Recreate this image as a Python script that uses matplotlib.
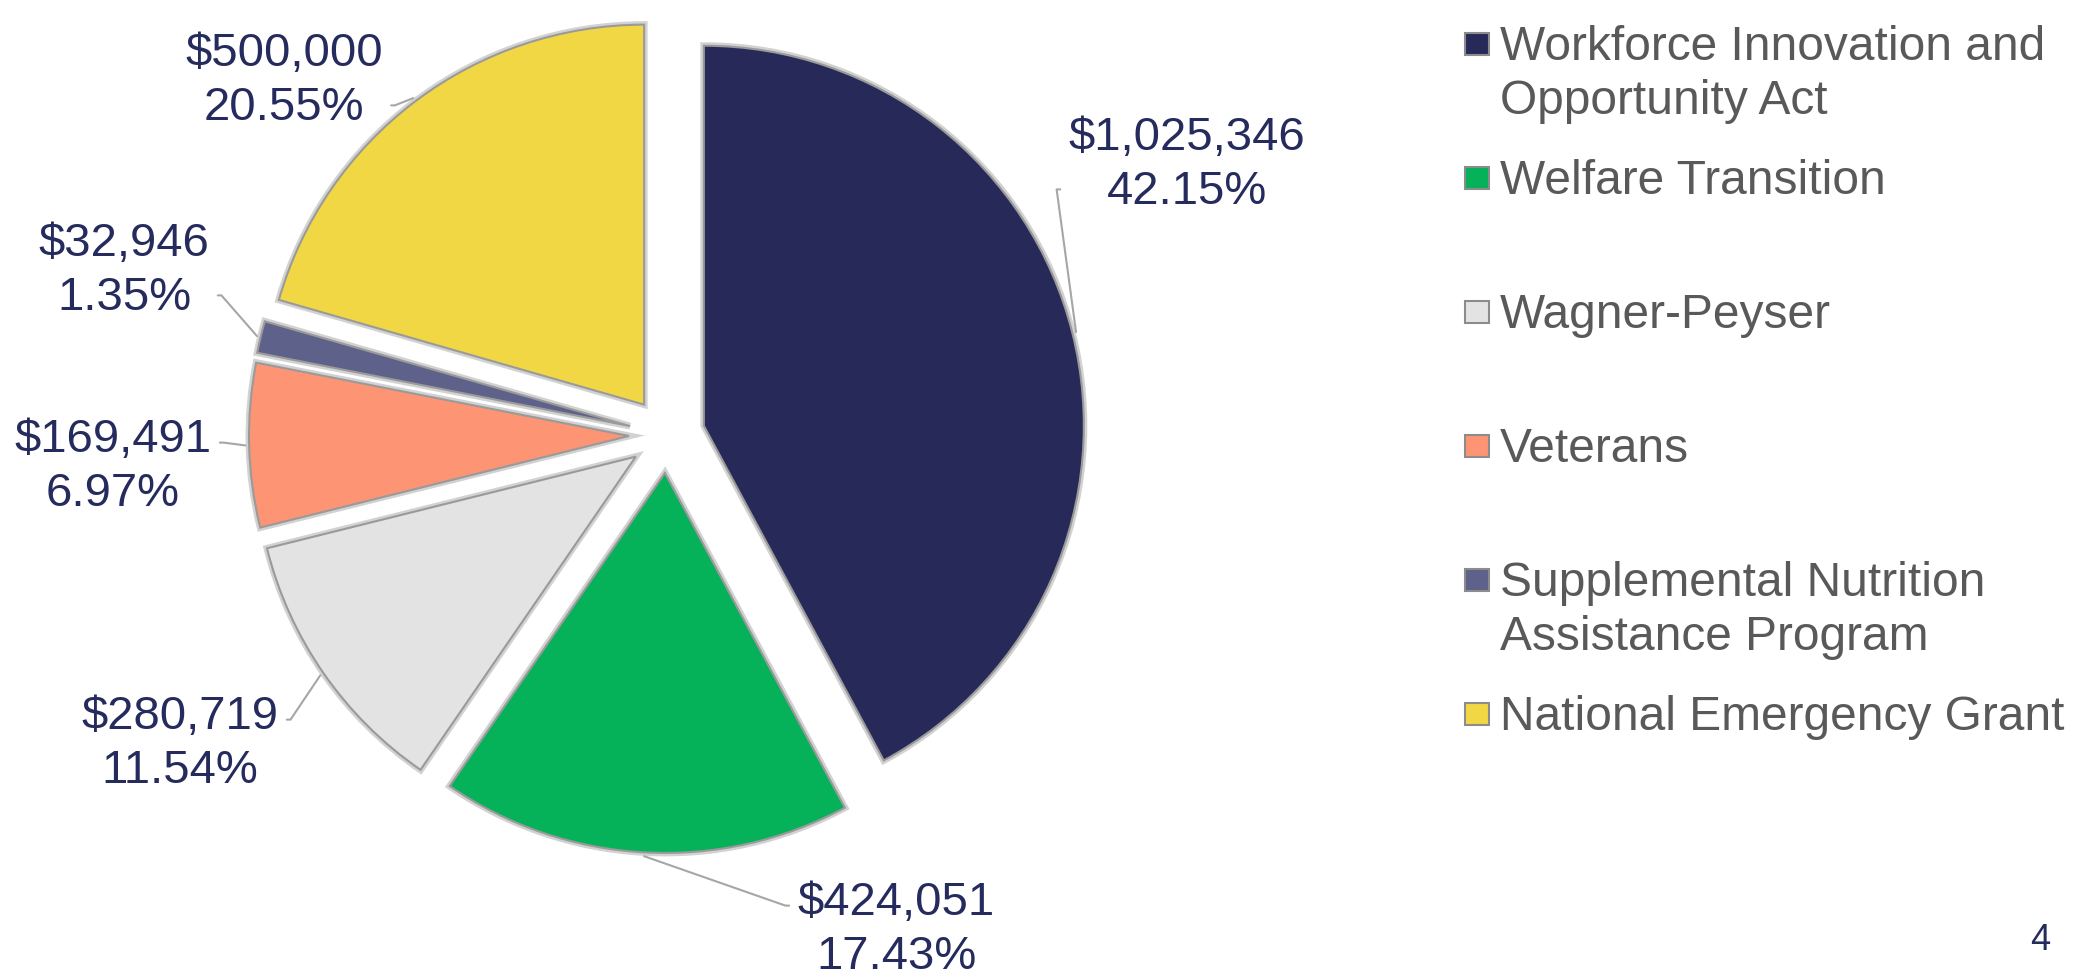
import matplotlib.pyplot as plt
import numpy as np
from matplotlib.patches import Rectangle
import matplotlib.patheffects as pe

plt.rcParams['font.family'] = ['Liberation Sans', 'DejaVu Sans']

# data
programs = ["Workforce Innovation and\nOpportunity Act", "Welfare Transition", "Wagner-Peyser",
            "Veterans", "Supplemental Nutrition\nAssistance Program", "National Emergency Grant"]
amounts = [1025346, 424051, 280719, 169491, 32946, 500000]
percents = [42.15, 17.43, 11.54, 6.97, 1.35, 20.55]
colors = ["#272A59", "#05B159", "#E3E3E3", "#FD9474", "#5E6189", "#F2D745"]

# layout (pixels, measured from the top-left of the picture)
W, H = 2087, 976
cx, cy, R = 667, 435, 380
label_px = [(1187, 165), (896, 930), (180, 744), (113, 467), (124, 271), (284, 81)]
label_relpos = [(0, 0.25), (0, 0.75), (1, 0.75), (1, 0.75), (1, 0.25), (1, 0.25)]
navy = "#262B5E"

fig = plt.figure(figsize=(W / 100, H / 100), dpi=100)
ax = fig.add_axes([0, 0, 1, 1])

wedges, _ = ax.pie(amounts, colors=colors, startangle=90, counterclock=False,
                   explode=[0.1] * len(amounts), radius=1,
                   wedgeprops=dict(edgecolor="#9A9A9A", linewidth=1.5))
for w in wedges:
    w.set_path_effects([pe.Stroke(linewidth=5, foreground="#D2D2D2"), pe.Normal()])
ax.set_xlim(-cx / R, (W - cx) / R)
ax.set_ylim(-(H - cy) / R, cy / R)
ax.axis('off')

for i, w in enumerate(wedges):
    mid = np.deg2rad((w.theta1 + w.theta2) / 2)
    ex, ey = w.center[0] + 1.01 * np.cos(mid), w.center[1] + 1.01 * np.sin(mid)
    px, py = label_px[i]
    tx, ty = (px - cx) / R, (cy - py) / R
    rel = label_relpos[i]
    angA = 180 if rel[0] == 0 else 0
    ax.annotate(f"${amounts[i]:,}\n{percents[i]:.2f}%", xy=(ex, ey), xytext=(tx, ty),
                ha='center', va='center', fontsize=34, color=navy, linespacing=1.28,
                arrowprops=dict(arrowstyle='-', color="#A6A6A6", lw=1.5, relpos=rel,
                                shrinkA=4, shrinkB=0,
                                connectionstyle=f"arc,angleA={angA},armA=12,armB=0,rad=0"))

# legend drawn by hand to match the slide spacing
for i, (name, c) in enumerate(zip(programs, colors)):
    y = 44 + i * 134
    fig.add_artist(Rectangle((1465 / W, 1 - (y + 11) / H), 24 / W, 22 / H,
                             transform=fig.transFigure, facecolor=c,
                             edgecolor="#8C8C8C", linewidth=1.5))
    for j, line in enumerate(name.split("\n")):
        fig.text(1500 / W, 1 - (y + 16 + j * 54) / H, line, fontsize=34.5,
                 color="#595959", ha='left', va='baseline')

fig.text(2040 / W, 1 - 941 / H, "4", fontsize=26, color=navy, ha='center', va='center')

fig.savefig("out.png", dpi=100)
